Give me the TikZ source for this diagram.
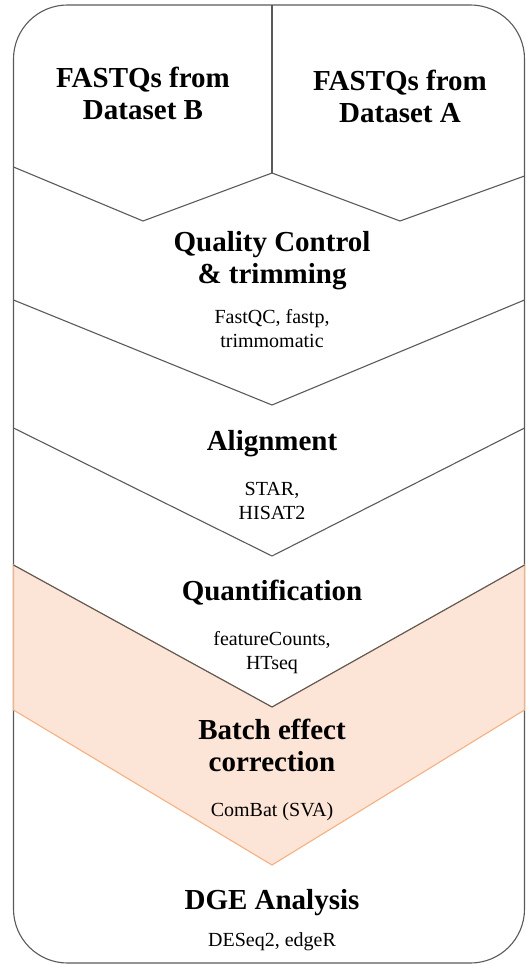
\documentclass[tikz,border=0pt]{standalone}
\usepackage{fontspec}
\setmainfont{Liberation Serif}[BoldFont={Liberation Serif Bold}]
\definecolor{edgegray}{HTML}{5A5A5A}
\definecolor{batchfill}{HTML}{FCE4D6}
\definecolor{batchline}{HTML}{F4B183}
\tikzset{
	stageline/.style={draw=edgegray,line width=1.1pt,line join=miter},
	batchpart/.style={fill=batchfill,draw=batchline,line width=1.1pt},
	title/.style={align=center,font=\rmfamily\bfseries\fontsize{29}{32}\selectfont},
	tools/.style={align=center,font=\rmfamily\fontsize{20}{24}\selectfont}
}
\begin{document}
\begin{tikzpicture}[x=1pt,y=-1pt]
		\useasboundingbox (0,0) rectangle (525,965);
		\draw[stageline,rounded corners=54pt] (13.5,5) rectangle (524.5,963);
		\filldraw[batchpart] (13.5,565) -- (272,707) -- (524.5,565) -- (524.5,710) -- (272,865) -- (13.5,710) -- cycle;
		\draw[stageline] (272,5) -- (272,173);
		\draw[stageline] (13.5,167) -- (143,221) -- (272,173) -- (400,221) -- (524.5,176);
		\draw[stageline] (13.5,300) -- (272,405) -- (524.5,300);
		\draw[stageline] (13.5,428) -- (272,556) -- (524.5,428);
		\draw[stageline] (13.5,565) -- (272,707) -- (524.5,565);
		\node[title] (fastqB) at (143,93) {FASTQs from\\Dataset B};
		\node[title] (fastqA) at (400,96) {FASTQs from\\Dataset A};
		\node[title] (qc) at (272,261) {Quality Control\\\& trimming};
		\node[tools] (qcTools) at (272,329) {FastQC, fastp,\\trimmomatic};
		\node[title] (align) at (272,444) {Alignment};
		\node[tools] (alignTools) at (272,501) {STAR,\\HISAT2};
		\node[title] (quant) at (272,593) {Quantification};
		\node[tools] (quantTools) at (272,653) {featureCounts,\\HTseq};
		\node[title] (batch) at (272,745) {Batch effect\\correction};
		\node[tools] (batchTools) at (272,812) {ComBat (SVA)};
		\node[title] (dge) at (272,903) {DGE Analysis};
		\node[tools] (dgeTools) at (272,942) {DESeq2, edgeR};
	\end{tikzpicture}
\end{document}
